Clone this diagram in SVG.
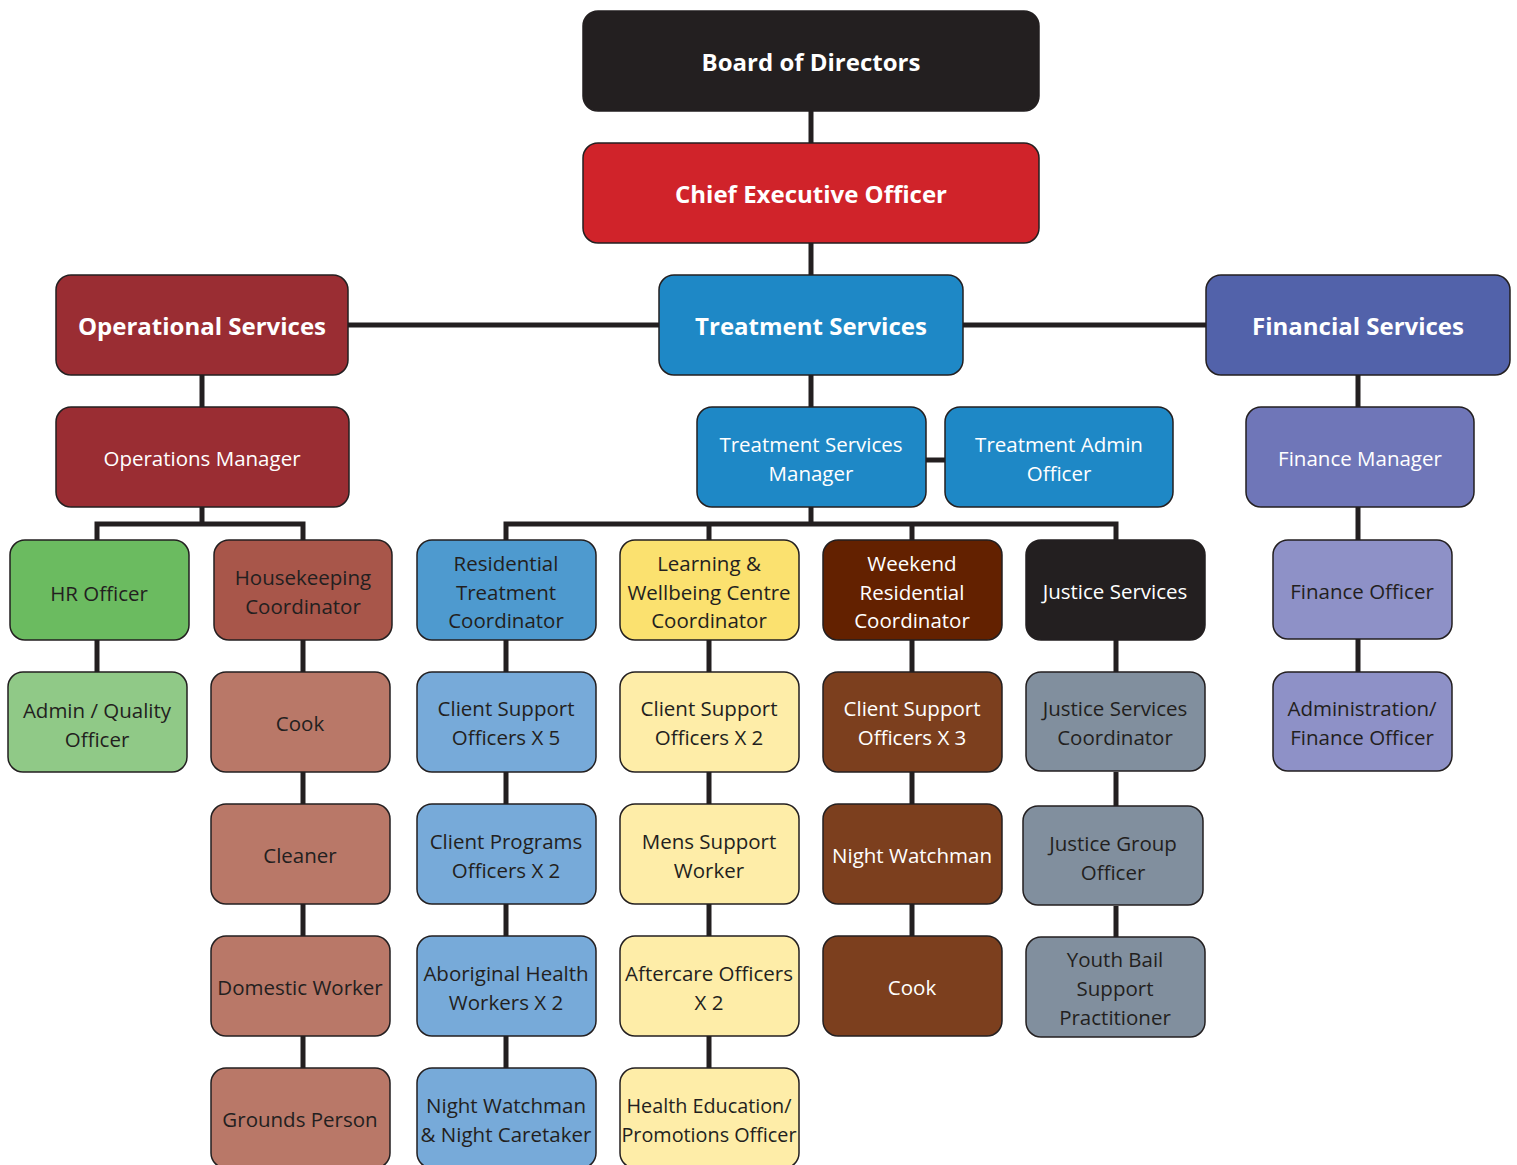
<svg xmlns="http://www.w3.org/2000/svg" width="1517" height="1165" viewBox="0 0 1517 1165">
<style>
  rect { stroke: #231f20; stroke-width: 1.5; }
  text { font-family: "Open Sans", "Noto Sans", "Liberation Sans", sans-serif; text-anchor: middle; transform: translateY(1px); }
  .b { font-size: 24px; font-weight: bold; fill: #ffffff; }
  .w { font-size: 20.5px; fill: #ffffff; }
  .d { font-size: 20.5px; fill: #231f20; }
  .s { font-size: 19.8px; }
  #connectors path { stroke: #231f20; stroke-width: 5; fill: none; }
</style>
<rect x="0" y="0" width="1517" height="1165" fill="#ffffff" style="stroke:none"/>
<g id="connectors">
  <path d="M811 111 V143"/>
  <path d="M811 243 V275"/>
  <path d="M348 325 H659"/>
  <path d="M963 325 H1206"/>
  <path d="M202 375 V407"/>
  <path d="M202 507 V524"/>
  <path d="M97 540 V524 H303 V540"/>
  <path d="M97 640 V672"/>
  <path d="M303 640 V672 M303 772 V804 M303 904 V936 M303 1036 V1068"/>
  <path d="M811 375 V407"/>
  <path d="M926 460 H945"/>
  <path d="M811 507 V524"/>
  <path d="M506 540 V524 H1116 V540 M709 524 V540 M912 524 V540"/>
  <path d="M506 640 V672 M506 772 V804 M506 904 V936 M506 1036 V1068"/>
  <path d="M709 640 V672 M709 772 V804 M709 904 V936 M709 1036 V1068"/>
  <path d="M912 640 V672 M912 772 V804 M912 904 V936"/>
  <path d="M1116 640 V672 M1116 772 V806 M1116 906 V937"/>
  <path d="M1358 375 V407 M1358 507 V540 M1358 638 V672"/>
</g>
<g id="board"><rect x="583" y="11" width="456" height="100" rx="15" fill="#231f20"/><text class="b" x="811" y="70">Board of Directors</text></g>
<g id="ceo"><rect x="583" y="143" width="456" height="100" rx="15" fill="#d0232a"/><text class="b" x="811" y="202">Chief Executive Officer</text></g>
<g id="operational"><rect x="56" y="275" width="292" height="100" rx="15" fill="#9a2d33"/><text class="b" x="202" y="334">Operational Services</text></g>
<g id="treatment"><rect x="659" y="275" width="304" height="100" rx="15" fill="#1e88c6"/><text class="b" x="811" y="334">Treatment Services</text></g>
<g id="financial"><rect x="1206" y="275" width="304" height="100" rx="15" fill="#5262aa"/><text class="b" x="1358" y="334">Financial Services</text></g>

<g id="ops-manager"><rect x="56" y="407" width="293" height="100" rx="15" fill="#9a2d33"/><text class="w" x="202" y="465">Operations Manager</text></g>
<g id="ts-manager"><rect x="697" y="407" width="229" height="100" rx="15" fill="#1e88c6"/><text class="w" x="811" y="451">Treatment Services<tspan x="811" dy="29">Manager</tspan></text></g>
<g id="ts-admin"><rect x="945" y="407" width="228" height="100" rx="15" fill="#1e88c6"/><text class="w" x="1059" y="451">Treatment Admin<tspan x="1059" dy="29">Officer</tspan></text></g>
<g id="finance-manager"><rect x="1246" y="407" width="228" height="100" rx="15" fill="#6f76b8"/><text class="w" x="1360" y="465">Finance Manager</text></g>

<g id="hr-officer"><rect x="10" y="540" width="179" height="100" rx="15" fill="#6bbb60"/><text class="d" x="99" y="600">HR Officer</text></g>
<g id="housekeeping"><rect x="214" y="540" width="178" height="100" rx="15" fill="#a8564a"/><text class="d" x="303" y="584">Housekeeping<tspan x="303" dy="29">Coordinator</tspan></text></g>
<g id="residential"><rect x="417" y="540" width="179" height="100" rx="15" fill="#4e9acf"/><text class="d" x="506" y="570">Residential<tspan x="506" dy="28.5">Treatment</tspan><tspan x="506" dy="28.5">Coordinator</tspan></text></g>
<g id="learning"><rect x="620" y="540" width="179" height="100" rx="15" fill="#fbe16f"/><text class="d" x="709" y="570">Learning &amp;<tspan x="709" dy="28.5">Wellbeing Centre</tspan><tspan x="709" dy="28.5">Coordinator</tspan></text></g>
<g id="weekend"><rect x="823" y="540" width="179" height="100" rx="15" fill="#632100"/><text class="w" x="912" y="570">Weekend<tspan x="912" dy="28.5">Residential</tspan><tspan x="912" dy="28.5">Coordinator</tspan></text></g>
<g id="justice"><rect x="1026" y="540" width="179" height="100" rx="15" fill="#231f20"/><text class="w" x="1115" y="598">Justice Services</text></g>
<g id="finance-officer"><rect x="1273" y="540" width="179" height="99" rx="15" fill="#8e91c7"/><text class="d" x="1362" y="598">Finance Officer</text></g>

<g id="admin-quality"><rect x="8" y="672" width="179" height="100" rx="15" fill="#90c987"/><text class="d" x="97" y="717">Admin / Quality<tspan x="97" dy="29">Officer</tspan></text></g>
<g id="cook-ops"><rect x="211" y="672" width="179" height="100" rx="15" fill="#b97868"/><text class="d" x="300" y="730">Cook</text></g>
<g id="cso5"><rect x="417" y="672" width="179" height="100" rx="15" fill="#77aad9"/><text class="d" x="506" y="715">Client Support<tspan x="506" dy="29">Officers X 5</tspan></text></g>
<g id="cso2"><rect x="620" y="672" width="179" height="100" rx="15" fill="#feeda8"/><text class="d" x="709" y="715">Client Support<tspan x="709" dy="29">Officers X 2</tspan></text></g>
<g id="cso3"><rect x="823" y="672" width="179" height="100" rx="15" fill="#7c3f1e"/><text class="w" x="912" y="715">Client Support<tspan x="912" dy="29">Officers X 3</tspan></text></g>
<g id="justice-coord"><rect x="1026" y="672" width="179" height="99" rx="15" fill="#818f9e"/><text class="d" x="1115" y="715">Justice Services<tspan x="1115" dy="29">Coordinator</tspan></text></g>
<g id="admin-finance"><rect x="1273" y="672" width="179" height="99" rx="15" fill="#8e91c7"/><text class="d" x="1362" y="715">Administration/<tspan x="1362" dy="29">Finance Officer</tspan></text></g>

<g id="cleaner"><rect x="211" y="804" width="179" height="100" rx="15" fill="#b97868"/><text class="d" x="300" y="862">Cleaner</text></g>
<g id="programs"><rect x="417" y="804" width="179" height="100" rx="15" fill="#77aad9"/><text class="d" x="506" y="848">Client Programs<tspan x="506" dy="29">Officers X 2</tspan></text></g>
<g id="mens"><rect x="620" y="804" width="179" height="100" rx="15" fill="#feeda8"/><text class="d" x="709" y="848">Mens Support<tspan x="709" dy="29">Worker</tspan></text></g>
<g id="watchman"><rect x="823" y="804" width="179" height="100" rx="15" fill="#7c3f1e"/><text class="w" x="912" y="862">Night Watchman</text></g>
<g id="justice-group"><rect x="1023" y="806" width="180" height="99" rx="15" fill="#818f9e"/><text class="d" x="1113" y="850">Justice Group<tspan x="1113" dy="29">Officer</tspan></text></g>

<g id="domestic"><rect x="211" y="936" width="179" height="100" rx="15" fill="#b97868"/><text class="d" x="300" y="994">Domestic Worker</text></g>
<g id="aboriginal"><rect x="417" y="936" width="179" height="100" rx="15" fill="#77aad9"/><text class="d" x="506" y="980">Aboriginal Health<tspan x="506" dy="29">Workers X 2</tspan></text></g>
<g id="aftercare"><rect x="620" y="936" width="179" height="100" rx="15" fill="#feeda8"/><text class="d" x="709" y="980">Aftercare Officers<tspan x="709" dy="29">X 2</tspan></text></g>
<g id="cook-weekend"><rect x="823" y="936" width="179" height="100" rx="15" fill="#7c3f1e"/><text class="w" x="912" y="994">Cook</text></g>
<g id="youth-bail"><rect x="1026" y="937" width="179" height="100" rx="15" fill="#818f9e"/><text class="d" x="1115" y="966">Youth Bail<tspan x="1115" dy="29">Support</tspan><tspan x="1115" dy="29">Practitioner</tspan></text></g>

<g id="grounds"><rect x="211" y="1068" width="179" height="100" rx="15" fill="#b97868"/><text class="d" x="300" y="1126">Grounds Person</text></g>
<g id="night-caretaker"><rect x="417" y="1068" width="179" height="100" rx="15" fill="#77aad9"/><text class="d" x="506" y="1112">Night Watchman<tspan x="506" dy="29">&amp; Night Caretaker</tspan></text></g>
<g id="health-ed"><rect x="620" y="1068" width="179" height="100" rx="15" fill="#feeda8"/><text class="d s" x="709" y="1112">Health Education/<tspan x="709" dy="29">Promotions Officer</tspan></text></g>
</svg>
